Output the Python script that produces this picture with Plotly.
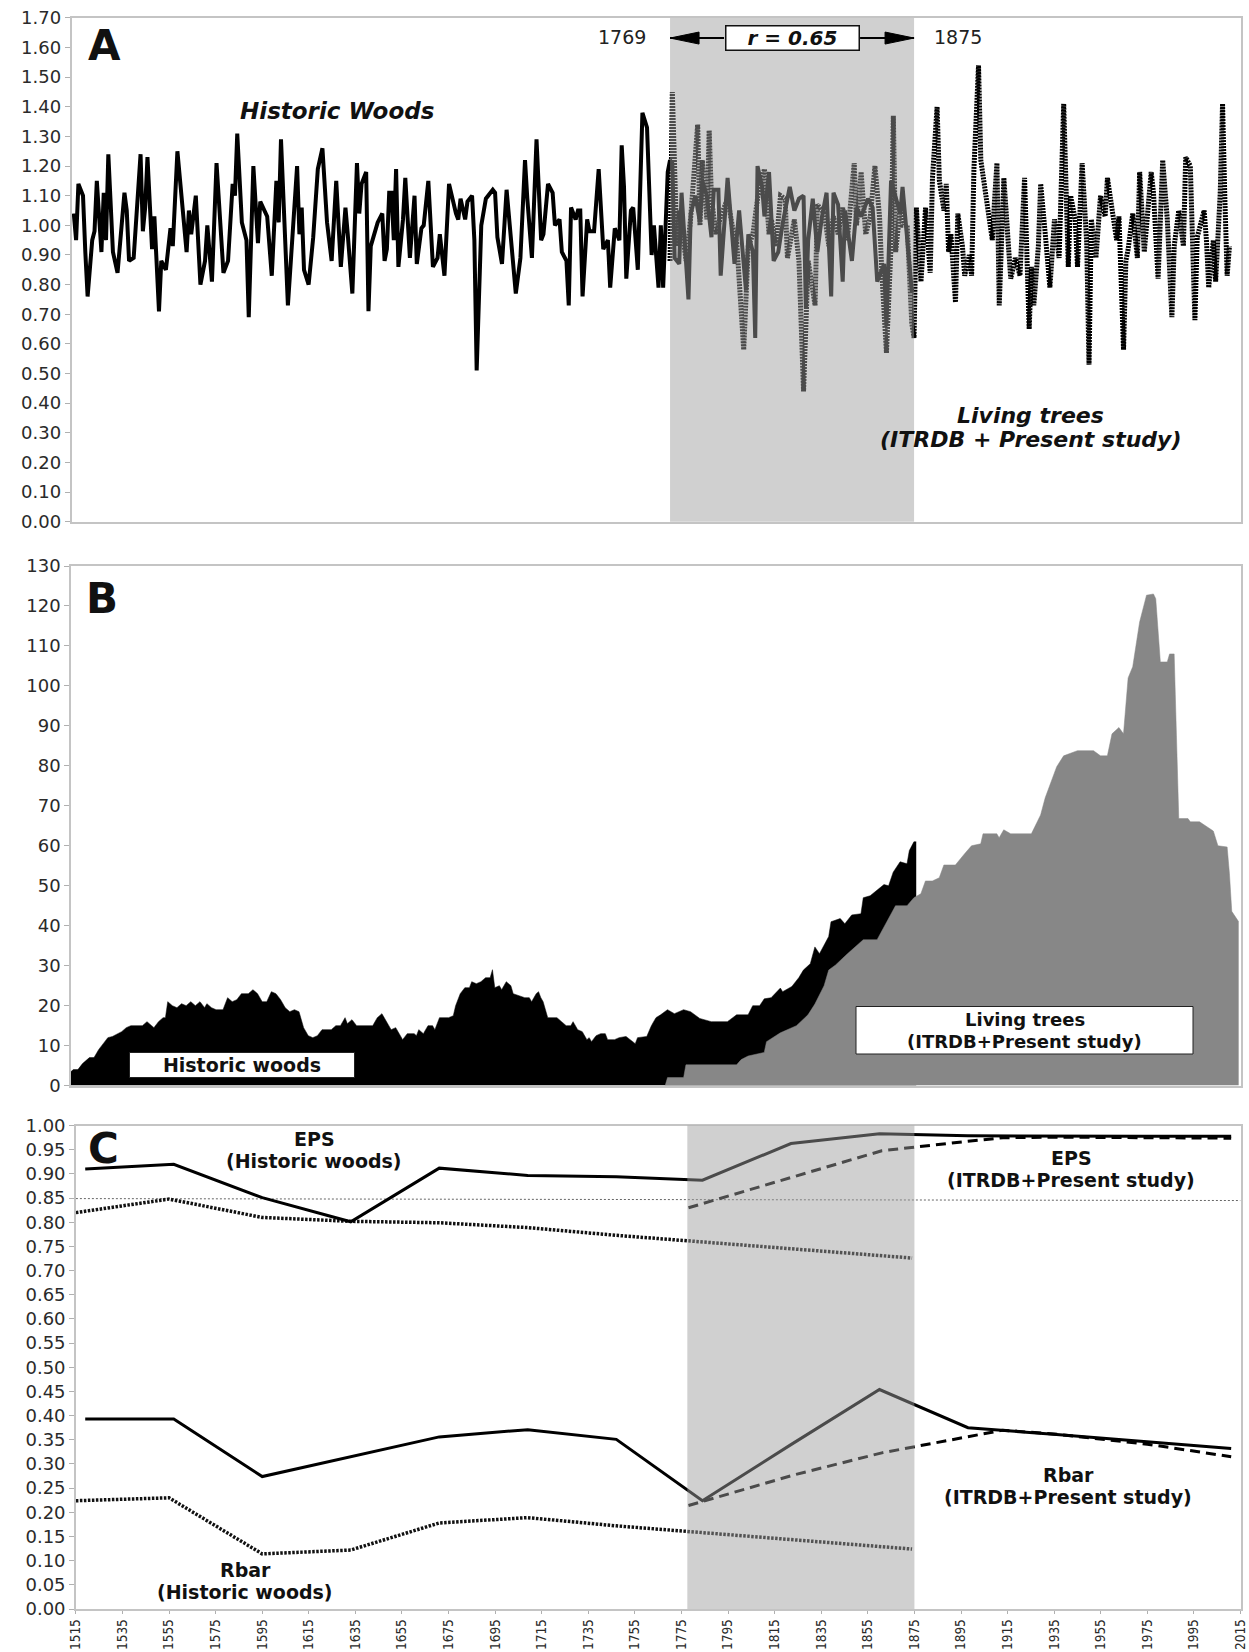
import plotly.graph_objects as go

W, H = 1249, 1652

# ---------------- Panel A: ring-width indices ----------------
overlap_years = [1769, 1875]
r_text = "r = 0.65"

hist_ring = [
    (1510, 1.04), (1511, 0.95), (1512, 1.14), (1514, 1.10), (1515, 0.91), (1516, 0.76), (1518, 0.95),
    (1519, 0.98), (1520, 1.15), (1522, 0.91), (1523, 1.11), (1524, 0.95), (1525, 1.24), (1527, 0.91),
    (1529, 0.84), (1532, 1.11), (1533, 1.05), (1534, 0.88), (1536, 0.89), (1539, 1.24), (1540, 0.98),
    (1541, 1.06), (1542, 1.23), (1544, 0.92), (1545, 1.03), (1547, 0.71), (1548, 0.88), (1550, 0.85),
    (1552, 0.99), (1553, 0.93), (1555, 1.25), (1557, 1.09), (1559, 0.91), (1560, 1.05), (1561, 0.97),
    (1563, 1.10), (1565, 0.80), (1567, 0.88), (1568, 1.00), (1570, 0.81), (1572, 1.21), (1575, 0.84),
    (1577, 0.88), (1579, 1.14), (1580, 1.10), (1581, 1.31), (1583, 1.01), (1585, 0.95), (1586, 0.69),
    (1588, 1.20), (1590, 0.94), (1591, 1.08), (1594, 1.03), (1596, 0.83), (1598, 1.15), (1599, 1.01),
    (1600, 1.29), (1603, 0.73), (1607, 1.20), (1608, 0.97), (1609, 1.06), (1610, 0.85), (1612, 0.80),
    (1614, 0.96), (1616, 1.19), (1618, 1.26), (1620, 1.01), (1622, 0.88), (1623, 1.01), (1624, 1.15),
    (1626, 0.86), (1628, 1.06), (1629, 0.97), (1631, 0.77), (1633, 1.21), (1634, 1.04), (1635, 1.14),
    (1637, 1.18), (1638, 0.71), (1639, 0.93), (1642, 1.01), (1644, 1.04), (1645, 0.88), (1646, 0.92),
    (1647, 1.11), (1648, 1.11), (1649, 0.95), (1650, 1.19), (1651, 0.86), (1653, 1.02), (1654, 1.16),
    (1656, 0.89), (1658, 1.10), (1659, 0.87), (1661, 0.99), (1662, 1.00), (1664, 1.15), (1666, 0.86),
    (1668, 0.89), (1669, 0.97), (1671, 0.83), (1673, 1.14), (1676, 1.04), (1677, 1.02), (1678, 1.09),
    (1680, 1.02), (1681, 1.08), (1683, 1.10), (1684, 0.95), (1685, 0.51), (1687, 1.00), (1689, 1.09),
    (1692, 1.12), (1693, 1.11), (1694, 0.96), (1696, 0.87), (1698, 1.12), (1700, 0.95), (1702, 0.77),
    (1704, 0.89), (1706, 1.22), (1707, 1.09), (1709, 0.89), (1711, 1.29), (1713, 0.95), (1714, 0.97),
    (1716, 1.14), (1718, 1.11), (1719, 1.00), (1721, 1.02), (1722, 0.91), (1724, 0.88), (1725, 0.73),
    (1726, 1.06), (1728, 1.02), (1729, 1.05), (1730, 1.05), (1731, 0.76), (1733, 1.02), (1734, 0.98),
    (1736, 0.98), (1738, 1.19), (1740, 0.92), (1742, 0.95), (1743, 0.79), (1745, 0.99), (1747, 0.95),
    (1748, 1.27), (1749, 1.13), (1750, 0.82), (1752, 1.05), (1753, 1.06), (1755, 0.85), (1757, 1.38),
    (1759, 1.33), (1761, 0.90), (1762, 1.00), (1764, 0.79), (1765, 1.00), (1766, 0.79), (1768, 1.18),
    (1769, 1.22), (1770, 1.21), (1771, 0.89), (1773, 0.87), (1774, 1.11), (1777, 0.75), (1778, 1.04),
    (1780, 1.10), (1782, 1.01), (1783, 1.15), (1785, 1.10), (1787, 0.96), (1788, 1.12), (1790, 1.12),
    (1791, 0.83), (1794, 1.16), (1797, 0.87), (1799, 1.05), (1802, 0.78), (1803, 0.97), (1805, 0.91),
    (1806, 0.62), (1807, 1.20), (1809, 1.13), (1810, 1.03), (1812, 1.18), (1814, 0.88), (1816, 0.91),
    (1818, 1.01), (1821, 1.13), (1823, 1.05), (1825, 1.09), (1827, 1.10), (1828, 0.72), (1829, 0.95),
    (1831, 1.09), (1833, 0.91), (1835, 1.03), (1837, 1.11), (1839, 0.76), (1840, 1.11), (1842, 1.07),
    (1844, 0.81), (1845, 1.05), (1848, 0.88), (1850, 1.06), (1852, 1.03), (1855, 1.09), (1857, 1.06),
    (1859, 0.81), (1862, 0.87), (1863, 0.66), (1865, 1.15), (1867, 1.09), (1869, 1.04), (1870, 1.13),
    (1872, 0.97), (1874, 0.78), (1875, 0.78),
]

living_ring = [
    (1769, 0.88), (1770, 1.45), (1772, 0.93), (1773, 1.05), (1776, 0.88), (1778, 1.03), (1781, 1.34),
    (1782, 1.00), (1783, 1.22), (1785, 1.02), (1786, 1.32), (1787, 1.09), (1789, 0.97), (1791, 1.03),
    (1794, 1.09), (1796, 1.00), (1798, 0.94), (1801, 0.58), (1803, 0.93), (1805, 0.97), (1807, 1.09),
    (1810, 1.19), (1812, 0.97), (1813, 1.02), (1815, 0.93), (1817, 1.10), (1819, 1.09), (1820, 0.89),
    (1823, 1.02), (1825, 0.88), (1827, 0.44), (1829, 0.88), (1832, 0.73), (1833, 1.07), (1836, 1.04),
    (1838, 0.93), (1840, 1.03), (1842, 0.97), (1844, 1.06), (1846, 0.95), (1849, 1.21), (1850, 1.00),
    (1852, 1.18), (1854, 0.97), (1856, 1.03), (1858, 1.20), (1860, 1.03), (1861, 0.84), (1863, 0.57),
    (1865, 0.93), (1866, 1.37), (1867, 0.91), (1869, 1.06), (1870, 1.00), (1872, 1.00), (1874, 0.67),
    (1875, 0.62), (1876, 1.06), (1878, 0.81), (1880, 1.06), (1882, 0.84), (1883, 1.16), (1885, 1.40),
    (1886, 1.15), (1888, 1.05), (1889, 1.14), (1890, 0.91), (1891, 0.97), (1893, 0.74), (1894, 1.04),
    (1896, 0.93), (1897, 0.83), (1899, 0.90), (1900, 0.83), (1901, 1.19), (1903, 1.54), (1904, 1.22),
    (1905, 1.17), (1907, 1.05), (1909, 0.95), (1910, 1.09), (1911, 1.21), (1912, 0.73), (1914, 1.16),
    (1916, 0.93), (1917, 0.82), (1919, 0.89), (1921, 0.83), (1923, 1.16), (1924, 0.88), (1925, 0.65),
    (1926, 0.86), (1927, 0.73), (1929, 0.93), (1930, 1.14), (1932, 0.97), (1934, 0.79), (1936, 1.02),
    (1938, 0.89), (1940, 1.41), (1941, 1.07), (1942, 0.86), (1943, 1.10), (1945, 1.02), (1946, 0.86),
    (1948, 1.21), (1950, 0.94), (1951, 0.53), (1952, 1.02), (1954, 0.89), (1956, 1.10), (1958, 1.03),
    (1959, 1.16), (1961, 1.06), (1963, 0.95), (1964, 1.03), (1966, 0.58), (1967, 0.88), (1968, 0.92),
    (1970, 1.04), (1972, 0.89), (1973, 1.18), (1975, 0.91), (1978, 1.18), (1979, 1.11), (1981, 0.82),
    (1983, 1.22), (1985, 1.02), (1987, 0.69), (1988, 0.93), (1990, 1.05), (1992, 0.93), (1993, 1.23),
    (1995, 1.20), (1997, 0.68), (1998, 0.96), (2001, 1.05), (2002, 0.95), (2003, 0.79), (2005, 0.95),
    (2006, 0.81), (2008, 1.11), (2009, 1.41), (2010, 1.09), (2011, 0.83), (2012, 0.93),
]

# ---------------- Panel B: sample depth ----------------
hist_depth = [
    (1509, 3.5), (1510, 4), (1512, 4), (1514, 5.5), (1517, 7), (1519, 7), (1521, 9), (1523, 10.5),
    (1525, 12), (1527, 12.3), (1529, 13), (1531, 13.5), (1533, 14.5), (1535, 15), (1540, 15), (1542, 16),
    (1544, 15), (1545, 14.5), (1547, 16), (1549, 17), (1550, 17), (1551, 21), (1553, 20), (1555, 19.5),
    (1557, 20.5), (1559, 20), (1561, 21), (1563, 20), (1565, 21), (1567, 19.5), (1568, 20.5), (1570, 19.5),
    (1572, 19), (1575, 19), (1577, 22), (1579, 21), (1581, 21.5), (1583, 23), (1586, 23), (1588, 24),
    (1590, 23), (1592, 21), (1594, 21), (1596, 23.5), (1598, 23), (1600, 21.5), (1602, 19.5), (1604, 18.5),
    (1606, 19), (1608, 18.5), (1610, 14.5), (1612, 12.5), (1614, 12), (1616, 12.5), (1618, 14), (1622, 14),
    (1624, 15), (1626, 15), (1628, 17), (1629, 15.5), (1631, 16.5), (1633, 15), (1640, 15), (1642, 17),
    (1644, 18), (1646, 16), (1648, 14), (1650, 14.5), (1651, 13.5), (1653, 11.5), (1655, 13), (1658, 13),
    (1659, 12.5), (1660, 14), (1662, 13), (1664, 15), (1666, 15), (1667, 14), (1669, 17), (1673, 17),
    (1675, 17.5), (1676, 20), (1678, 23), (1680, 24.5), (1682, 24.5), (1683, 26), (1685, 25.5), (1687, 26),
    (1689, 27), (1691, 27), (1692, 29), (1693, 24.5), (1695, 25), (1696, 24), (1698, 26), (1700, 25),
    (1701, 23), (1704, 22.5), (1706, 22), (1708, 22), (1709, 21), (1711, 23), (1712, 23.5), (1713, 22),
    (1714, 21), (1716, 17), (1720, 17), (1722, 16), (1724, 15), (1726, 15), (1727, 16), (1729, 14),
    (1731, 13.5), (1733, 11.5), (1734, 12), (1735, 11), (1737, 12.5), (1739, 13), (1741, 13), (1742, 11.5),
    (1745, 11.5), (1747, 12), (1750, 12.3), (1754, 10.5), (1755, 12), (1759, 12.3), (1761, 15), (1763, 17),
    (1765, 17.7), (1768, 19), (1771, 18), (1775, 19), (1778, 18.5), (1782, 16.8), (1787, 16), (1794, 16),
    (1798, 17.7), (1803, 17.7), (1805, 20), (1808, 20), (1810, 21.7), (1813, 22), (1817, 24.4),
    (1818, 23.5), (1822, 24.8), (1825, 27), (1827, 28.9), (1830, 30.5), (1832, 34.7), (1834, 33),
    (1836, 35), (1838, 37.3), (1839, 41), (1843, 41.8), (1845, 40.5), (1848, 42.7), (1852, 43), (1853, 47),
    (1856, 47.5), (1859, 49), (1862, 50.3), (1864, 50), (1866, 53.4), (1869, 56), (1872, 55.5),
    (1873, 58.8), (1875, 61), (1876, 61),
]

living_depth = [
    (1767, 0), (1768, 2), (1775, 2), (1776, 5.2), (1798, 5.2), (1800, 6.5), (1803, 7.4), (1810, 8.3),
    (1811, 11), (1817, 13.2), (1824, 15), (1829, 17.7), (1832, 20.4), (1836, 25), (1838, 28.9),
    (1841, 30.2), (1846, 32.9), (1853, 36.5), (1859, 36.5), (1864, 41.8), (1867, 45), (1872, 45),
    (1875, 47), (1878, 48), (1880, 51.2), (1883, 51.2), (1886, 52), (1888, 55.2), (1893, 55.2), (1897, 58),
    (1900, 60), (1904, 60.5), (1905, 63), (1911, 63), (1912, 62), (1914, 64), (1917, 63), (1926, 63),
    (1930, 67.7), (1932, 72), (1937, 79.8), (1940, 82.5), (1946, 83.8), (1953, 83.8), (1956, 82.5),
    (1959, 82.5), (1961, 88), (1964, 89.6), (1966, 88), (1968, 102), (1970, 104.8), (1973, 116),
    (1976, 122.7), (1979, 123), (1980, 121.8), (1982, 106), (1985, 106), (1986, 108), (1988, 108),
    (1990, 66.8), (1994, 66.8), (1995, 66), (1999, 66), (2005, 63.7), (2007, 60), (2011, 59.7),
    (2012, 53), (2013, 43.6), (2016, 41),
]

# ---------------- Panel C: EPS and Rbar ----------------
c_years_all = [1519, 1557, 1595, 1633, 1671, 1709, 1747, 1784, 1822, 1860, 1898, 1936, 1973, 2011]
eps_all = [0.910, 0.920, 0.851, 0.801, 0.912, 0.897, 0.894, 0.887, 0.963, 0.983, 0.979, 0.978, 0.978, 0.978]
rbar_all = [0.393, 0.393, 0.274, 0.315, 0.356, 0.371, 0.351, 0.224, 0.340, 0.454, 0.375, 0.361, 0.346, 0.332]

c_years_living = [1778, 1823, 1861, 1899, 1913, 1937, 1975, 2011]
eps_living = [0.830, 0.894, 0.948, 0.968, 0.975, 0.976, 0.975, 0.974]
rbar_living = [0.214, 0.277, 0.323, 0.358, 0.370, 0.361, 0.341, 0.315]

c_years_hist = [1515, 1555, 1595, 1633, 1671, 1709, 1747, 1785, 1823, 1861, 1874]
eps_hist = [0.820, 0.848, 0.810, 0.802, 0.799, 0.789, 0.773, 0.759, 0.745, 0.731, 0.726]
rbar_hist = [0.224, 0.230, 0.114, 0.122, 0.178, 0.189, 0.172, 0.158, 0.144, 0.130, 0.124]

eps_threshold_years = [1515, 2015]
eps_threshold = [0.849, 0.845]
c_shade_years = [1777.5, 1875]

a_yticks = [i / 10 for i in range(0, 18)]
b_yticks = list(range(0, 131, 10))
c_yticks = [i / 20 for i in range(0, 21)]
c_xticks = list(range(1515, 2016, 20))

# ---------------- layout geometry (pixels -> paper) ----------------
def px(x):
    return x / W


def py(y):
    return 1 - y / H


FONT = "DejaVu Sans"
NARROW = "Liberation Sans Narrow, DejaVu Sans Condensed, DejaVu Sans"
AXIS_LINE = "#c4c4c4"
TICK_COL = "#b0b0b0"
SHADE = "rgba(157,157,157,0.48)"

fig = go.Figure()

# Panel A traces
fig.add_trace(go.Scatter(x=[p[0] for p in living_ring], y=[p[1] for p in living_ring],
                         mode="lines", line=dict(color="#000000", width=5, dash="2px,1px"),
                         xaxis="x", yaxis="y", hoverinfo="skip"))
fig.add_trace(go.Scatter(x=[p[0] for p in hist_ring], y=[p[1] for p in hist_ring],
                         mode="lines", line=dict(color="#000000", width=4),
                         xaxis="x", yaxis="y", hoverinfo="skip"))

# Panel B traces
fig.add_trace(go.Scatter(x=[p[0] for p in hist_depth], y=[p[1] for p in hist_depth],
                         mode="lines", fill="tozeroy", fillcolor="#000000",
                         line=dict(color="#000000", width=0.5),
                         xaxis="x2", yaxis="y2", hoverinfo="skip"))
fig.add_trace(go.Scatter(x=[p[0] for p in living_depth], y=[p[1] for p in living_depth],
                         mode="lines", fill="tozeroy", fillcolor="#878787",
                         line=dict(color="#878787", width=0.5),
                         xaxis="x2", yaxis="y2", hoverinfo="skip"))

# Panel C traces
fig.add_trace(go.Scatter(x=eps_threshold_years, y=eps_threshold, mode="lines",
                         line=dict(color="#666666", width=1, dash="2px,2px"),
                         xaxis="x3", yaxis="y3", hoverinfo="skip"))
for yv in (eps_hist, rbar_hist):
    fig.add_trace(go.Scatter(x=c_years_hist, y=yv, mode="lines",
                             line=dict(color="#111111", width=3.5, dash="2.5px,1.5px"),
                             xaxis="x3", yaxis="y3", hoverinfo="skip"))
for yv in (eps_living, rbar_living):
    fig.add_trace(go.Scatter(x=c_years_living, y=yv, mode="lines",
                             line=dict(color="#000000", width=3, dash="10px,6px"),
                             xaxis="x3", yaxis="y3", hoverinfo="skip"))
for yv in (eps_all, rbar_all):
    fig.add_trace(go.Scatter(x=c_years_all, y=yv, mode="lines",
                             line=dict(color="#000000", width=3),
                             xaxis="x3", yaxis="y3", hoverinfo="skip"))

common_axis = dict(showline=True, linecolor=AXIS_LINE, linewidth=1.5, mirror=True,
                   showgrid=False, zeroline=False, automargin=False)
ytick_style = dict(ticks="outside", ticklen=5, tickcolor=TICK_COL, tickwidth=1,
                   tickfont=dict(family=FONT, size=18, color="#2a2a2a"))

fig.update_layout(
    width=W, height=H, autosize=False,
    margin=dict(l=0, r=0, t=0, b=0),
    paper_bgcolor="white", plot_bgcolor="white",
    showlegend=False, template="none",
    font=dict(family=FONT, size=17, color="#222222"),
    xaxis=dict(domain=[px(71.5), px(1240.5)], range=[1509, 2016.8], anchor="y",
               showticklabels=False, ticks="", **common_axis),
    yaxis=dict(domain=[py(521.7), py(17.9)], range=[0, 1.70], anchor="x",
               tickmode="array", tickvals=a_yticks, ticktext=[f"{v:.2f}" for v in a_yticks],
               **ytick_style, **common_axis),
    xaxis2=dict(domain=[px(71.0), px(1240.5)], range=[1509, 2016.8], anchor="y2",
                showticklabels=False, ticks="", **common_axis),
    yaxis2=dict(domain=[py(1085.6), py(566)], range=[0, 130], anchor="x2",
                tickmode="array", tickvals=b_yticks, ticktext=[str(v) for v in b_yticks],
                **ytick_style, **common_axis),
    xaxis3=dict(domain=[px(75.9), px(1240.5)], range=[1515, 2015], anchor="y3",
                tickmode="array", tickvals=c_xticks, ticktext=[str(v) for v in c_xticks],
                tickangle=-90, ticks="outside", ticklen=3, tickcolor=TICK_COL,
                tickfont=dict(family=NARROW, size=13.5, color="#2a2a2a"), **common_axis),
    yaxis3=dict(domain=[py(1609), py(1125.6)], range=[0, 1.0], anchor="x3",
                tickmode="array", tickvals=c_yticks, ticktext=[f"{v:.2f}" for v in c_yticks],
                **ytick_style, **common_axis),
)

shapes = []
# overlap shading panel A (drawn over the lines, translucent)
shapes.append(dict(type="rect", xref="x", yref="y domain", x0=overlap_years[0], x1=overlap_years[1],
                   y0=0, y1=1, fillcolor=SHADE, line=dict(width=0), layer="above"))
# arrows to the overlap limits
arrow_y = 1.632
shapes.append(dict(type="line", xref="x", yref="y", xsizemode="pixel", xanchor=overlap_years[0],
                   x0=0, x1=54, y0=arrow_y, y1=arrow_y, line=dict(color="black", width=2), layer="above"))
shapes.append(dict(type="line", xref="x", yref="y", xsizemode="pixel", xanchor=overlap_years[1],
                   x0=0, x1=-54, y0=arrow_y, y1=arrow_y, line=dict(color="black", width=2), layer="above"))
shapes.append(dict(type="path", xref="x", yref="y", xsizemode="pixel", ysizemode="pixel",
                   xanchor=overlap_years[0], yanchor=arrow_y, path="M0,0 L29,6 L29,-6 Z",
                   fillcolor="black", line=dict(color="black", width=1), layer="above"))
shapes.append(dict(type="path", xref="x", yref="y", xsizemode="pixel", ysizemode="pixel",
                   xanchor=overlap_years[1], yanchor=arrow_y, path="M0,0 L-29,6 L-29,-6 Z",
                   fillcolor="black", line=dict(color="black", width=1), layer="above"))
# panel C shading
shapes.append(dict(type="rect", xref="x3", yref="y3 domain", x0=c_shade_years[0], x1=c_shade_years[1],
                   y0=0, y1=1, fillcolor=SHADE, line=dict(width=0), layer="above"))
# panel B label box (living trees)
shapes.append(dict(type="rect", xref="paper", yref="paper", x0=px(856), x1=px(1193),
                   y0=py(1054), y1=py(1006.5), fillcolor="white",
                   line=dict(color="#222222", width=1), layer="above"))
fig.update_layout(shapes=shapes)


def label(x, y, text, size=20, **kw):
    d = dict(xref="paper", yref="paper", x=px(x), y=py(y), text=text, showarrow=False,
             xanchor="center", yanchor="middle", font=dict(family=FONT, size=size, color="#111111"))
    d.update(kw)
    return d


ann = [
    label(104, 45, "<b>A</b>", size=42),
    label(102, 598, "<b>B</b>", size=42),
    label(103, 1148, "<b>C</b>", size=42),
    label(337, 111, "<b><i>Historic Woods</i></b>", size=23),
    label(1030, 416, "<b><i>Living trees</i></b>", size=22),
    label(1030, 439, "<b><i>(ITRDB + Present study)</i></b>", size=22),
    label(622, 37, str(overlap_years[0]), font=dict(family=FONT, size=19, color="#222222")),
    label(958, 37, str(overlap_years[1]), font=dict(family=FONT, size=19, color="#222222")),
    label(792, 38, f"<b><i>{r_text}</i></b>", size=20, bgcolor="white", bordercolor="#111111",
          borderwidth=1.5, borderpad=1, width=130, height=21),
    label(242, 1064.5, "<b>Historic woods</b>", size=19, bgcolor="white", bordercolor="#222222",
          borderwidth=1, borderpad=1, width=222, height=22),
    label(1024.5, 1019.5, "<b>Living trees</b>", size=18),
    label(1024.5, 1041, "<b>(ITRDB+Present study)</b>", size=18),
    label(314, 1139, "<b>EPS</b>", size=19),
    label(314, 1161, "<b>(Historic woods)</b>", size=19),
    label(1071, 1158, "<b>EPS</b>", size=19),
    label(1071, 1180, "<b>(ITRDB+Present study)</b>", size=19),
    label(1068, 1475, "<b>Rbar</b>", size=19),
    label(1068, 1497, "<b>(ITRDB+Present study)</b>", size=19),
    label(245, 1570, "<b>Rbar</b>", size=19),
    label(245, 1592, "<b>(Historic woods)</b>", size=19),
]
fig.update_layout(annotations=ann)

fig.write_html("out.html")
